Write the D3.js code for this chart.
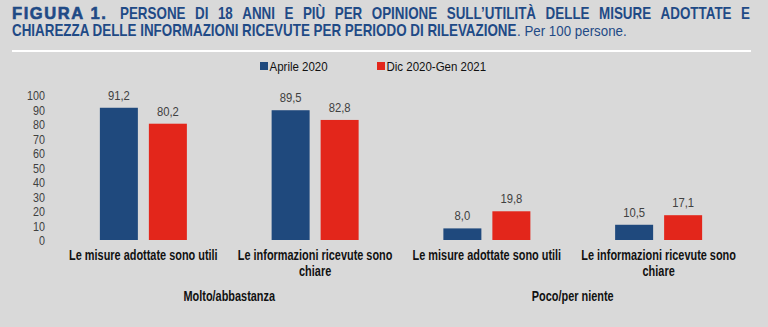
<!DOCTYPE html>
<html>
<head>
<meta charset="utf-8">
<script src="https://cdn.jsdelivr.net/npm/d3@7"></script>
<style>
  html, body { margin: 0; padding: 0; background: #d9d9d9; }
  svg { display: block; }
</style>
</head>
<body>
<div id="chart"></div>
<script>
// data
const catKeys = ['m1', 'i1', 'm2', 'i2']
const catLines = [
  ['Le misure adottate sono utili'],
  ['Le informazioni ricevute sono', 'chiare'],
  ['Le misure adottate sono utili'],
  ['Le informazioni ricevute sono', 'chiare']
]
const groups = ['Molto/abbastanza', 'Poco/per niente']
const seriesNames = ['Aprile 2020', 'Dic 2020-Gen 2021']
const aprile2020 = [91.2, 89.5, 8.0, 10.5]
const dic2020gen2021 = [80.2, 82.8, 19.8, 17.1]
const yTicks = [0, 10, 20, 30, 40, 50, 60, 70, 80, 90, 100]

const colors = ['#1f497d', '#e3261b']
const W = 768
const H = 327
const sans = '"Liberation Sans", Arial, sans-serif'

// squeeze a text horizontally (no narrow face installed):
// moves x,y into a transform and scales x by f
function narrow (sel, f) {
  sel.each(function () {
    const t = d3.select(this)
    const x0 = +t.attr('x') || 0
    const y0 = +t.attr('y') || 0
    t.attr('x', 0).attr('y', 0)
      .attr('transform', `translate(${x0},${y0}) scale(${f},1)`)
  })
}

const svg = d3.select('#chart').append('svg')
  .attr('width', W)
  .attr('height', H)
  .style('font-family', sans)

svg.append('rect').attr('width', W).attr('height', H).attr('fill', '#d9d9d9')

// title
const titleColor = '#1f4a86'
const t2 = svg.append('text').attr('x', 12).attr('y', 36)
  .attr('fill', titleColor)
  .style('font-weight', 700)
  .style('font-size', '16.5px')
  .text('CHIAREZZA DELLE INFORMAZIONI RICEVUTE PER PERIODO DI RILEVAZIONE')
const squeeze = 505 / t2.node().getComputedTextLength()
t2.call(narrow, squeeze)
svg.append('text').attr('x', 517).attr('y', 36)
  .attr('fill', titleColor)
  .style('font-size', '14.5px')
  .text('. Per 100 persone.')
  .call(narrow, 0.92)

const t1 = svg.append('g').attr('fill', titleColor)
const words1 = ['PERSONE', 'DI', '18', 'ANNI', 'E', 'PIÙ', 'PER', 'OPINIONE', 'SULL\u2019UTILITÀ', 'DELLE', 'MISURE', 'ADOTTATE', 'E']
t1.append('text')
  .attr('x', 12).attr('y', 19)
  .style('font-weight', 900)
  .style('font-size', '16.5px')
  .style('letter-spacing', '1.6px')
  .attr('stroke', titleColor)
  .attr('stroke-width', 0.6)
  .text('FIGURA 1.')
const wordSel = t1.selectAll('text.w').data(words1).join('text')
  .attr('class', 'w')
  .attr('y', 19)
  .style('font-weight', 700)
  .style('font-size', '16.5px')
  .text(d => d)
const widths = []
wordSel.each(function () { widths.push(this.getComputedTextLength() * squeeze) })
const startX = 120
const endX = 750
const gap = (endX - startX - d3.sum(widths)) / (words1.length - 1)
let cx = startX
wordSel.attr('x', (d, i) => { const x = cx; cx += widths[i] + gap; return x })
wordSel.call(narrow, squeeze)

svg.append('line')
  .attr('x1', 12).attr('x2', 751)
  .attr('y1', 51).attr('y2', 51)
  .attr('stroke', '#ffffff').attr('stroke-width', 2)

// scales
const x = d3.scaleBand().domain(catKeys).range([57.5, 744.5]).padding(0)
const xs = d3.scaleBand().domain(seriesNames)
  .range([x.bandwidth() / 2 - 43.5, x.bandwidth() / 2 + 43.5])
  .paddingInner(0.2245)
const y = d3.scaleLinear().domain([0, 100]).range([240, 95])

// y axis
const yAxis = svg.append('g')
  .attr('transform', 'translate(48,0)')
  .call(d3.axisLeft(y).tickValues(yTicks).tickSize(0).tickPadding(3))
yAxis.select('.domain').remove()
yAxis.selectAll('text')
  .attr('fill', '#404040')
  .style('font-family', sans)
  .style('font-size', '12.5px')
  .attr('dy', null)
  .attr('y', 4.5)
  .call(narrow, 0.86)
yAxis.selectAll('text').attr('transform', function () {
  return d3.select(this).attr('transform').replace('translate(-3,4.5)', 'translate(-3,4.5)')
})

// bars
const series = [aprile2020, dic2020gen2021]
const fmt = v => d3.format('.1f')(v).replace('.', ',')
series.forEach((vals, s) => {
  const g = svg.append('g')
  g.selectAll('rect').data(vals).join('rect')
    .attr('x', (d, i) => x(catKeys[i]) + xs(seriesNames[s]))
    .attr('y', d => y(d))
    .attr('width', xs.bandwidth())
    .attr('height', d => y(0) - y(d))
    .attr('fill', colors[s])
  g.selectAll('text').data(vals).join('text')
    .attr('x', (d, i) => x(catKeys[i]) + xs(seriesNames[s]) + xs.bandwidth() / 2)
    .attr('y', d => y(d) - 8)
    .attr('text-anchor', 'middle')
    .attr('fill', '#404040')
    .style('font-size', '12.5px')
    .text(d => fmt(d))
    .call(narrow, 0.9)
})

// category labels
const cat = svg.append('g')
catLines.forEach((lines, i) => {
  lines.forEach((l, j) => {
    cat.append('text')
      .attr('x', x(catKeys[i]) + x.bandwidth() / 2)
      .attr('y', 260 + j * 16)
      .attr('text-anchor', 'middle')
      .style('font-weight', 700)
      .style('font-size', '14px')
      .attr('fill', '#111')
      .text(l)
      .call(narrow, 0.78)
  })
})

// group labels
groups.forEach((gname, i) => {
  const a = catKeys[i * 2]
  const b = catKeys[i * 2 + 1]
  svg.append('text')
    .attr('x', (x(a) + x(b) + x.bandwidth()) / 2)
    .attr('y', 301)
    .attr('text-anchor', 'middle')
    .attr('fill', '#111')
    .style('font-weight', 700)
    .style('font-size', '14px')
    .text(gname)
    .call(narrow, 0.78)
})

// legend
const legX = [260, 377]
seriesNames.forEach((n, i) => {
  const g = svg.append('g').attr('transform', `translate(${legX[i]},62)`)
  g.append('rect').attr('width', 8).attr('height', 8).attr('fill', colors[i])
  g.append('text').attr('x', 9.5).attr('y', 8.5)
    .attr('fill', '#111')
    .style('font-size', '12.5px')
    .text(n)
    .call(narrow, 0.92)
})
</script>
</body>
</html>
